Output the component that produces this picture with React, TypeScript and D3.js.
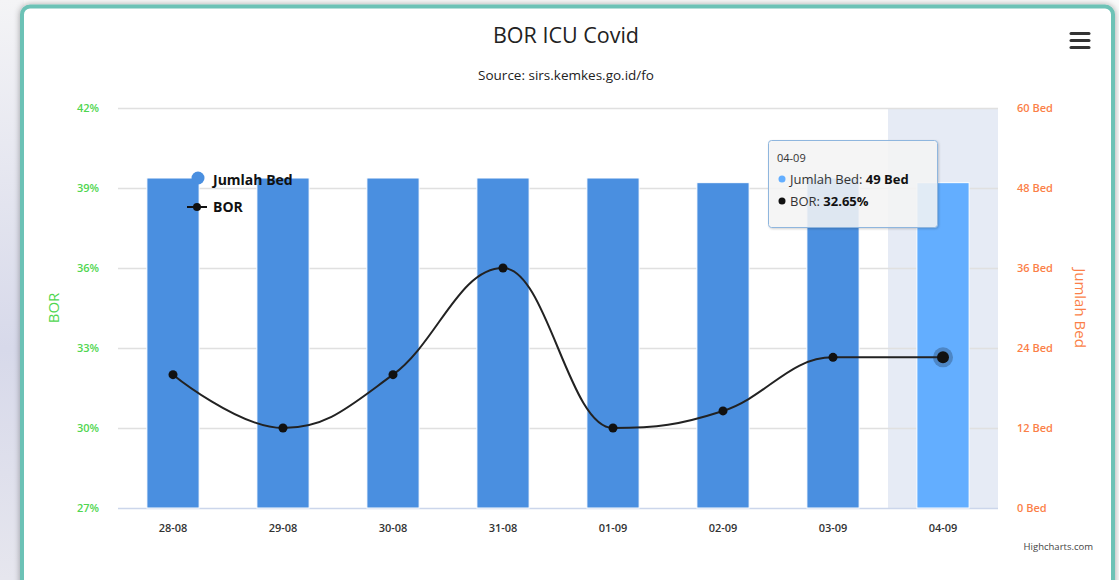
import React from "react";
import * as d3 from "d3";

const categories = ["28-08", "29-08", "30-08", "31-08", "01-09", "02-09", "03-09", "04-09"];
const bedValues = [49.5, 49.5, 49.5, 49.5, 49.5, 48.8, 49.5, 48.8];
const borValues = [32.0, 30.0, 32.0, 36.0, 30.0, 30.64, 32.65, 32.65];
const leftTicks = [27, 30, 33, 36, 39, 42];
const rightTicks = [0, 12, 24, 36, 48, 60];
const hoverIndex = 7;

const W = 1119;
const H = 580;
const plot = { left: 118, right: 998, top: 108, bottom: 508 };

const GREEN = "#4fd64f";
const ORANGE = "#fb7f48";
const BAR = "#4a8fe0";
const BAR_HOVER = "#63aeff";
const FONT = "'Open Sans', 'DejaVu Sans', sans-serif";

function splinePath(pts: [number, number][]): string {
  const p = d3.path();
  const n = pts.length;
  const ctrl: { l: [number, number]; r: [number, number] }[] = [];
  for (let i = 0; i < n; i++) {
    const [px, py] = pts[i];
    if (i === 0 || i === n - 1) {
      ctrl.push({ l: [px, py], r: [px, py] });
      continue;
    }
    const [lx, ly] = pts[i - 1];
    const [nx, ny] = pts[i + 1];
    const s = 1.5;
    const den = s + 1;
    let lcx = (s * px + lx) / den;
    let lcy = (s * py + ly) / den;
    let rcx = (s * px + nx) / den;
    let rcy = (s * py + ny) / den;
    if (rcx !== lcx) {
      const corr = ((rcy - lcy) * (rcx - px)) / (rcx - lcx) + py - rcy;
      lcy += corr;
      rcy += corr;
    }
    if (lcy > ly && lcy > py) {
      lcy = Math.max(ly, py);
      rcy = 2 * py - lcy;
    } else if (lcy < ly && lcy < py) {
      lcy = Math.min(ly, py);
      rcy = 2 * py - lcy;
    }
    if (rcy > ny && rcy > py) {
      rcy = Math.max(ny, py);
      lcy = 2 * py - rcy;
    } else if (rcy < ny && rcy < py) {
      rcy = Math.min(ny, py);
      lcy = 2 * py - rcy;
    }
    ctrl.push({ l: [lcx, lcy], r: [rcx, rcy] });
  }
  p.moveTo(pts[0][0], pts[0][1]);
  for (let i = 1; i < n; i++) {
    const a = ctrl[i - 1].r;
    const b = ctrl[i].l;
    p.bezierCurveTo(a[0], a[1], b[0], b[1], pts[i][0], pts[i][1]);
  }
  return p.toString();
}

export default function App() {
  const x = d3.scaleBand<string>().domain(categories).range([plot.left, plot.right]).padding(0);
  const yL = d3.scaleLinear().domain([27, 42]).range([plot.bottom, plot.top]);
  const yR = d3.scaleLinear().domain([0, 60]).range([plot.bottom, plot.top]);
  const bw = x.bandwidth();
  const barW = bw * 0.475;
  const cx = (c: string) => (x(c) as number) + bw / 2;

  const pts: [number, number][] = categories.map((c, i) => [cx(c), yL(borValues[i])]);
  const hc = categories[hoverIndex];

  return (
    <svg
      width={W}
      height={H}
      style={{ position: "absolute", left: 0, top: 0, display: "block" }}
      fontFamily={FONT}
    >
      <defs>
        <filter id="cardShadow" x="-5%" y="-5%" width="110%" height="120%">
          <feDropShadow dx="0" dy="0" stdDeviation="3" floodColor="#000" floodOpacity="0.35" />
        </filter>
        <filter id="tipShadow" x="-10%" y="-10%" width="130%" height="140%">
          <feDropShadow dx="1" dy="1" stdDeviation="1.2" floodColor="#000" floodOpacity="0.2" />
        </filter>
        <linearGradient id="bgLeft" x1="0" y1="0" x2="0" y2="1">
          <stop offset="0" stopColor="#f4f4f6" />
          <stop offset="0.6" stopColor="#d7d9ea" />
          <stop offset="1" stopColor="#e6e6ee" />
        </linearGradient>
      </defs>
      <rect x={0} y={0} width={W} height={H} fill="#fafafa" />
      <rect x={0} y={0} width={24} height={H} fill="url(#bgLeft)" />
      <rect
        x={22}
        y={6.5}
        width={1091}
        height={610}
        rx={8}
        fill="#ffffff"
        stroke="#6cc2b6"
        strokeWidth={4}
        filter="url(#cardShadow)"
      />

      {/* title */}
      <text x={566} y={43} textAnchor="middle" fontSize={21.5} fill="#222">
        BOR ICU Covid
      </text>
      <text x={566} y={80} textAnchor="middle" fontSize={13.5} fill="#222">
        Source: sirs.kemkes.go.id/fo
      </text>

      {/* menu icon */}
      {[33.5, 40.5, 47.5].map((yy) => (
        <line key={yy} x1={1071} x2={1089} y1={yy} y2={yy} stroke="#333" strokeWidth={3} strokeLinecap="round" />
      ))}

      {/* crosshair band */}
      <rect x={x(hc) as number} y={plot.top} width={bw} height={plot.bottom - plot.top} fill="#e6ebf5" />

      {/* grid */}
      {leftTicks.map((t) => (
        <line
          key={t}
          x1={plot.left}
          x2={plot.right}
          y1={Math.round(yL(t)) + 0.5}
          y2={Math.round(yL(t)) + 0.5}
          stroke={t === 27 ? "#ccd6eb" : "#e0e0e0"}
          strokeWidth={1.5}
        />
      ))}

      {/* bars */}
      {categories.map((c, i) => (
        <rect
          key={c}
          x={cx(c) - barW / 2}
          y={yR(bedValues[i])}
          width={barW}
          height={yR(0) - yR(bedValues[i])}
          fill={i === hoverIndex ? BAR_HOVER : BAR}
          stroke="#ffffff"
          strokeWidth={1}
        />
      ))}

      {/* line */}
      <path d={splinePath(pts)} fill="none" stroke="#222" strokeWidth={2} />
      {pts.map((p, i) =>
        i === hoverIndex ? (
          <g key={i}>
            <circle cx={p[0]} cy={p[1]} r={10} fill="#1a2a40" fillOpacity={0.3} />
            <circle cx={p[0]} cy={p[1]} r={6} fill="#111" />
          </g>
        ) : (
          <circle key={i} cx={p[0]} cy={p[1]} r={4.5} fill="#111" />
        )
      )}

      {/* left axis labels */}
      {leftTicks.map((t) => (
        <text key={t} x={99} y={yL(t) + 4} textAnchor="end" fontSize={11} fontWeight={600} fill={GREEN}>
          {t}%
        </text>
      ))}
      <text
        transform={`translate(59,${(plot.top + plot.bottom) / 2}) rotate(-90)`}
        textAnchor="middle"
        fontSize={15}
        fill={GREEN}
      >
        BOR
      </text>

      {/* right axis labels */}
      {rightTicks.map((t) => (
        <text key={t} x={1017} y={yR(t) + 4} textAnchor="start" fontSize={11} fontWeight={600} fill={ORANGE}>
          {t} Bed
        </text>
      ))}
      <text
        transform={`translate(1075,${(plot.top + plot.bottom) / 2}) rotate(90)`}
        textAnchor="middle"
        fontSize={15}
        fill={ORANGE}
      >
        Jumlah Bed
      </text>

      {/* x axis labels */}
      {categories.map((c) => (
        <text key={c} x={cx(c)} y={532} textAnchor="middle" fontSize={11} fontWeight={600} fill="#333">
          {c}
        </text>
      ))}

      {/* legend */}
      <g>
        <circle cx={198} cy={178} r={6.5} fill={BAR} />
        <text x={213} y={185} fontSize={14} fontWeight="bold" fill="#111">
          Jumlah Bed
        </text>
        <line x1={187} x2={207} y1={207} y2={207} stroke="#111" strokeWidth={2} />
        <circle cx={197} cy={207} r={4} fill="#111" />
        <text x={213} y={212} fontSize={14} fontWeight="bold" fill="#111">
          BOR
        </text>
      </g>

      {/* tooltip */}
      <g filter="url(#tipShadow)">
        <rect x={768.5} y={140.5} width={169} height={87} rx={3} fill="rgba(247,247,247,0.85)" stroke="#8fb6de" strokeWidth={1} />
      </g>
      <text x={777} y={162} fontSize={11} fill="#333">
        {hc}
      </text>
      <circle cx={782} cy={179} r={3.5} fill={BAR_HOVER} />
      <text x={790} y={184} fontSize={13} fill="#333">
        Jumlah Bed: <tspan fontWeight="bold" fill="#111">49 Bed</tspan>
      </text>
      <circle cx={782} cy={201} r={3.5} fill="#111" />
      <text x={790} y={206} fontSize={13} fill="#333">
        BOR: <tspan fontWeight="bold" fill="#111">{borValues[hoverIndex].toFixed(2)}%</tspan>
      </text>

      {/* credits */}
      <text x={1093} y={550} textAnchor="end" fontSize={9.5} fill="#444">
        Highcharts.com
      </text>
    </svg>
  );
}
